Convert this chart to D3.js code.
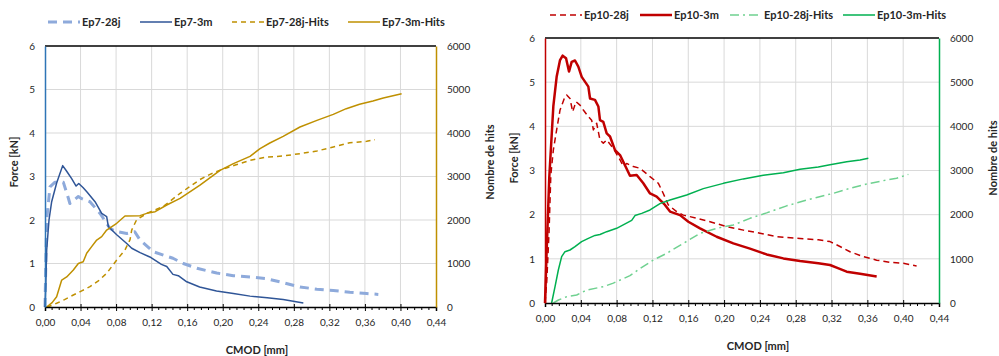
<!DOCTYPE html>
<html><head><meta charset="utf-8">
<script src="https://cdn.jsdelivr.net/npm/d3@7"></script>
<style>
body{margin:0;background:#fff}
text{font-family:Lato,"Open Sans","Noto Sans",sans-serif;fill:#262626}
</style>
</head><body>
<svg id="c" width="999" height="356"></svg>
<script>
// ---------- tick values ----------
const xTicks = [0,0.04,0.08,0.12,0.16,0.20,0.24,0.28,0.32,0.36,0.40,0.44];
const forceTicks = [0,1,2,3,4,5,6];
const hitsTicks = [0,1000,2000,3000,4000,5000,6000];
const xTitle = "CMOD [mm]";
const yLeftTitle = "Force [kN]";
const yRightTitle = "Nombre de hits";

// ---------- series (CMOD [mm], value) ----------
const ep7_28j = [[0,0],[0.0019,2.0],[0.0056,2.76],[0.0113,2.87],[0.0206,2.87],[0.0263,2.5],[0.028,2.38],[0.0375,2.54],[0.0413,2.49],[0.0506,2.42],[0.062,2.15],[0.073,1.81],[0.0788,1.74],[0.092,1.69],[0.101,1.73],[0.107,1.54],[0.122,1.27],[0.144,1.12],[0.1557,1.0],[0.171,0.89],[0.1932,0.78],[0.2119,0.72],[0.2307,0.69],[0.2495,0.65],[0.268,0.56],[0.2869,0.46],[0.306,0.41],[0.3244,0.38],[0.343,0.34],[0.362,0.31],[0.3751,0.29]];
const ep7_3m = [[0,0],[0.001,0.6],[0.0019,1.31],[0.0045,2.0],[0.0075,2.42],[0.0131,2.85],[0.0199,3.25],[0.0244,3.12],[0.03,2.95],[0.035,2.78],[0.038,2.84],[0.043,2.74],[0.0475,2.64],[0.0563,2.42],[0.0638,2.15],[0.0694,2.08],[0.0713,1.85],[0.0807,1.66],[0.092,1.46],[0.0976,1.35],[0.107,1.25],[0.118,1.15],[0.131,0.98],[0.137,0.93],[0.144,0.75],[0.15,0.72],[0.1595,0.58],[0.174,0.46],[0.193,0.37],[0.212,0.31],[0.2307,0.25],[0.25,0.21],[0.268,0.17],[0.2907,0.09]];
const ep7_28jHits = [[0.002,0],[0.008,40],[0.0131,85],[0.022,170],[0.0319,276],[0.0413,370],[0.0506,467],[0.06,600],[0.0694,774],[0.0807,1080],[0.09,1310],[0.0957,1550],[0.0976,1770],[0.103,2000],[0.1145,2153],[0.133,2310],[0.152,2613],[0.1744,2930],[0.1857,3050],[0.2,3170],[0.215,3270],[0.2307,3370],[0.2495,3448],[0.268,3471],[0.2869,3525],[0.306,3586],[0.3244,3678],[0.343,3778],[0.362,3808],[0.3713,3847]];
const ep7_3mHits = [[0.0019,0],[0.008,100],[0.0131,237],[0.0188,620],[0.0244,690],[0.0319,850],[0.0375,1000],[0.043,1042],[0.0469,1234],[0.0525,1387],[0.0582,1540],[0.0638,1617],[0.0694,1770],[0.0807,1924],[0.09,2092],[0.1069,2100],[0.1145,2153],[0.124,2192],[0.137,2345],[0.152,2498],[0.1744,2800],[0.197,3142],[0.212,3295],[0.2307,3464],[0.242,3640],[0.253,3770],[0.268,3923],[0.2869,4138],[0.306,4291],[0.3244,4429],[0.339,4559],[0.354,4659],[0.369,4736],[0.3807,4805],[0.4013,4904]];

const ep10_28j = [[0,0],[0.002,0.5],[0.0045,1.6],[0.0065,2.9],[0.0093,3.46],[0.013,3.92],[0.0168,4.37],[0.0223,4.67],[0.0242,4.71],[0.0279,4.63],[0.0309,4.33],[0.0346,4.56],[0.0391,4.48],[0.0428,4.37],[0.0484,4.22],[0.0521,4.14],[0.054,3.92],[0.0577,4.07],[0.0614,3.69],[0.0651,3.62],[0.0689,3.69],[0.0763,3.5],[0.0838,3.24],[0.0875,3.09],[0.0912,3.16],[0.0986,3.09],[0.1061,3.05],[0.1173,2.86],[0.1266,2.71],[0.1321,2.48],[0.1377,2.22],[0.147,2.07],[0.1545,1.99],[0.1694,1.92],[0.1843,1.84],[0.2029,1.73],[0.2215,1.65],[0.2401,1.58],[0.2587,1.5],[0.2848,1.46],[0.3052,1.43],[0.3183,1.39],[0.3294,1.28],[0.3406,1.16],[0.3555,1.05],[0.3704,0.97],[0.3853,0.92],[0.4002,0.9],[0.415,0.84]];
const ep10_3m = [[0,0],[0.0019,1.2],[0.0048,2.86],[0.0093,4.45],[0.013,5.12],[0.0168,5.5],[0.0197,5.6],[0.0235,5.54],[0.0268,5.24],[0.0298,5.46],[0.0335,5.49],[0.0372,5.35],[0.041,5.12],[0.0484,4.9],[0.0503,4.63],[0.0558,4.6],[0.0596,4.45],[0.0614,4.14],[0.0651,4.1],[0.0689,3.84],[0.0726,3.77],[0.0782,3.46],[0.0838,3.35],[0.0893,3.12],[0.0949,2.88],[0.1024,2.9],[0.1098,2.71],[0.1173,2.48],[0.1247,2.41],[0.134,2.22],[0.1396,2.07],[0.1508,1.99],[0.1601,1.84],[0.1731,1.69],[0.1917,1.5],[0.2103,1.35],[0.2289,1.23],[0.2475,1.1],[0.2662,1.01],[0.2848,0.95],[0.3052,0.9],[0.3183,0.86],[0.3257,0.8],[0.3369,0.71],[0.3518,0.66],[0.3704,0.6]];
const ep10_28jHits = [[0.0093,0],[0.015,68],[0.0242,143],[0.0354,181],[0.0466,294],[0.0651,370],[0.0763,450],[0.0949,620],[0.1061,780],[0.121,974],[0.1359,1125],[0.1545,1351],[0.1731,1577],[0.1917,1691],[0.2103,1766],[0.2289,1917],[0.2475,2040],[0.2699,2200],[0.2922,2330],[0.3034,2390],[0.322,2483],[0.3406,2596],[0.3592,2694],[0.3778,2770],[0.3927,2823],[0.4058,2913]];
const ep10_3mHits = [[0.0074,0],[0.0112,370],[0.0149,747],[0.0186,1049],[0.0223,1162],[0.0279,1200],[0.0335,1275],[0.0409,1389],[0.0484,1464],[0.0558,1530],[0.0614,1550],[0.0689,1615],[0.08,1691],[0.0968,1870],[0.1005,1980],[0.108,2030],[0.1173,2106],[0.1284,2250],[0.1396,2332],[0.1582,2445],[0.1768,2590],[0.1992,2709],[0.2215,2810],[0.2438,2890],[0.2662,2951],[0.2848,3026],[0.3052,3080],[0.3183,3130],[0.3369,3200],[0.3518,3238],[0.3611,3275]];

const leftNames = ["Ep7-28j","Ep7-3m","Ep7-28j-Hits","Ep7-3m-Hits"];
const rightNames = ["Ep10-28j","Ep10-3m","Ep10-28j-Hits","Ep10-3m-Hits"];

// ---------- drawing ----------
const svg = d3.select("#c");
const fmtX = v => d3.format(".2f")(v).replace(".", ",");
const fmtInt = d3.format("d");

function panel(p) {
  const x = d3.scaleLinear().domain([0, 0.44]).range([p.x0, p.x1]);
  const yF = d3.scaleLinear().domain([0, 6]).range([p.y1, p.y0]);
  const yH = d3.scaleLinear().domain([0, 6000]).range([p.y1, p.y0]);
  const g = svg.append("g");

  // grid
  g.append("g").selectAll("line").data(xTicks.slice(1, -1)).join("line")
    .attr("x1", d => x(d)).attr("x2", d => x(d)).attr("y1", p.y0).attr("y2", p.y1)
    .attr("stroke", "#d9d9d9").attr("stroke-width", 1);
  g.append("g").selectAll("line").data(forceTicks.slice(1, -1)).join("line")
    .attr("x1", p.x0).attr("x2", p.x1).attr("y1", d => yF(d)).attr("y2", d => yF(d))
    .attr("stroke", "#d9d9d9").attr("stroke-width", 1);

  // top border
  g.append("line").attr("x1", p.x0).attr("x2", p.x1).attr("y1", p.y0).attr("y2", p.y0)
    .attr("stroke", "#000").attr("stroke-width", 1.5);

  // series
  const line = (ys) => d3.line().x(d => x(d[0])).y(d => ys(d[1]));
  p.series.forEach(s => {
    g.append("path").datum(s.data)
      .attr("d", line(s.axis === "F" ? yF : yH))
      .attr("fill", "none").attr("stroke", s.color).attr("stroke-width", s.w)
      .attr("stroke-dasharray", s.dash || null).attr("stroke-linejoin", "round");
  });

  // x axis
  const xAxis = d3.axisBottom(x).tickValues(xTicks).tickFormat(fmtX).tickSize(4).tickPadding(8);
  const ax = g.append("g").attr("transform", `translate(0,${p.y1})`).call(xAxis);
  ax.select(".domain").attr("stroke", "#000").attr("stroke-width", 1.5);
  ax.selectAll(".tick line").attr("stroke", "#000").attr("y1", -3).attr("y2", 4);
  ax.selectAll("text").style("font-size", "10px").attr("fill", "#404040").attr("dy", "0.71em");
  const minor = d3.range(0, 0.4401, 0.008).filter(v => Math.abs(Math.round(v / 0.04) * 0.04 - v) > 1e-6);
  g.append("g").selectAll("line").data(minor).join("line")
    .attr("x1", d => x(d)).attr("x2", d => x(d)).attr("y1", p.y1).attr("y2", p.y1 + 3)
    .attr("stroke", "#000").attr("stroke-width", 1);

  // left axis
  const la = g.append("g").attr("transform", `translate(${p.x0},0)`)
    .call(d3.axisLeft(yF).tickValues(forceTicks).tickFormat(fmtInt).tickSize(0).tickPadding(10));
  la.select(".domain").attr("stroke", p.leftColor).attr("stroke-width", 1.5);
  la.selectAll("text").style("font-size", "10px").attr("fill", "#404040");

  // right axis
  const ra = g.append("g").attr("transform", `translate(${p.x1},0)`)
    .call(d3.axisRight(yH).tickValues(hitsTicks).tickFormat(fmtInt).tickSize(0).tickPadding(11));
  ra.select(".domain").attr("stroke", p.rightColor).attr("stroke-width", 1.5);
  ra.selectAll("text").style("font-size", "10px").attr("fill", "#404040");

  // titles
  g.append("text").attr("x", p.xTitleX).attr("y", p.y1 + 47).attr("text-anchor", "middle")
    .style("font-size", "11px").style("font-weight", "bold").text(xTitle);
  g.append("text").attr("transform", `translate(${p.x0 - 27},${p.yTitleY}) rotate(-90)`)
    .attr("text-anchor", "middle").style("font-size", "11px").style("font-weight", "bold").text(yLeftTitle);
  g.append("text").attr("transform", `translate(${p.x1 + 58},${p.yTitleY}) rotate(-90)`)
    .attr("text-anchor", "middle").style("font-size", "11px").style("font-weight", "bold").text(yRightTitle);

  // legend
  const lg = g.append("g");
  p.series.forEach((s, i) => {
    const lx = p.legendX[i];
    lg.append("line").attr("x1", lx).attr("x2", lx + 32).attr("y1", p.legendY).attr("y2", p.legendY)
      .attr("stroke", s.color).attr("stroke-width", s.w).attr("stroke-dasharray", s.dash || null);
    lg.append("text").attr("x", lx + 34).attr("y", p.legendY).attr("dy", "0.35em")
      .style("font-size", "11px").style("font-weight", "bold").text(s.name);
  });
}

panel({
  x0: 45, x1: 436, y0: 46, y1: 307, xTitleX: 257, yTitleY: 162,
  leftColor: "#2e75b6", rightColor: "#bf9000", legendY: 22, legendX: [48, 140, 232, 348],
  series: [
    {name: leftNames[0], data: ep7_28j, axis: "F", color: "#8eaadb", w: 3, dash: "9,6"},
    {name: leftNames[1], data: ep7_3m, axis: "F", color: "#2f5597", w: 1.5},
    {name: leftNames[2], data: ep7_28jHits, axis: "H", color: "#bf9000", w: 1.5, dash: "5,4"},
    {name: leftNames[3], data: ep7_3mHits, axis: "H", color: "#bf9000", w: 1.5}
  ]
});
panel({
  x0: 545, x1: 939, y0: 38, y1: 303, xTitleX: 758, yTitleY: 158,
  leftColor: "#c00000", rightColor: "#00b050", legendY: 15, legendX: [550, 640, 730, 843],
  series: [
    {name: rightNames[0], data: ep10_28j, axis: "F", color: "#c00000", w: 1.5, dash: "6,4"},
    {name: rightNames[1], data: ep10_3m, axis: "F", color: "#c00000", w: 2.5},
    {name: rightNames[2], data: ep10_28jHits, axis: "H", color: "#6fd190", w: 1.5, dash: "9,4,2,4"},
    {name: rightNames[3], data: ep10_3mHits, axis: "H", color: "#00b050", w: 1.5}
  ]
});
</script>
</body></html>
